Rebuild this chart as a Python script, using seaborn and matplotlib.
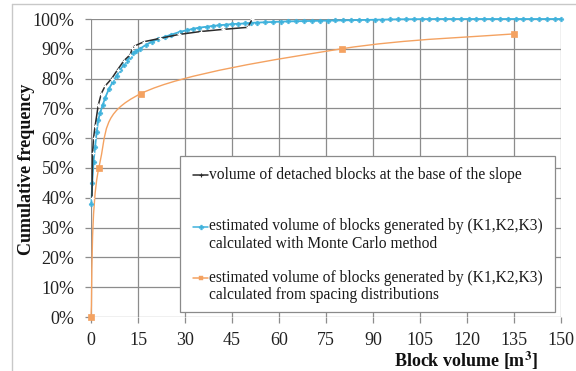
import numpy as np
import pandas as pd
import matplotlib
matplotlib.use("Agg")
import matplotlib.pyplot as plt
import seaborn as sns
from matplotlib.path import Path
from matplotlib.patches import PathPatch, Rectangle
from matplotlib.lines import Line2D

# ---------------- data ----------------
detached_x = [0.3, 0.5, 0.8, 1.3, 2.3, 3.3, 4.5, 6.6, 8.5, 10.5, 12.5, 13.2, 14.0,
              17.0, 22.0, 28.0, 35.0, 42.0, 50.0, 51.5]
detached_y = [40, 55, 60, 64, 71, 75, 77.5, 80, 83, 86, 88.0, 90.2, 91.0,
              92.4, 93.5, 94.8, 95.8, 96.5, 97.2, 100]

mc_x = [0.1, 0.4, 0.8, 1.3, 1.8, 2.3, 2.9, 3.7, 4.5, 5.7, 7.0, 8.2, 9.3, 10.4,
        11.4, 12.4, 13.4, 14.5, 15.6, 17.5, 19.4, 21.5, 23.5, 25.5, 28.4, 30.5,
        32.5, 34.5, 36.9, 39.0, 41.0, 43.0, 45.0, 47.0, 49.0, 51.0, 53.0, 55.5,
        58.0, 60.5, 63.0, 65.5, 68.0, 70.5, 73.0, 75.5, 78.0, 80.5, 83.0, 85.5,
        88.0, 90.5, 93.0, 95.5, 98.0, 100.5, 103.0, 105.5, 108.0, 110.5, 113.0,
        115.5, 118.0, 120.5, 123.0, 125.5, 128.0, 130.5, 133.0, 135.5, 138.0,
        140.5, 143.0, 145.5, 148.0, 150.0]
mc_y = [38, 45, 52, 57, 62, 66, 68.5, 71, 73.5, 76.5, 79, 81, 83, 84.5,
        86, 87.3, 88.5, 89.3, 90, 91.3, 92.4, 93.3, 94, 94.7, 95.7, 96.2,
        96.7, 97.1, 97.4, 97.7, 97.9, 98.1, 98.3, 98.4, 98.5, 98.7, 98.8, 98.9,
        99.0, 99.1, 99.2, 99.25, 99.3, 99.35, 99.4, 99.45, 99.5, 99.55, 99.6, 99.65,
        99.7, 99.75, 99.8, 99.85, 99.9, 99.92, 99.94, 99.96, 99.98, 100, 100,
        100, 100, 100, 100, 100, 100, 100, 100, 100, 100,
        100, 100, 100, 100, 100]

spacing_x = [0, 2.5, 16, 80, 135]
spacing_y = [0, 50, 75, 90, 95]

x_ticks = [0, 15, 30, 45, 60, 75, 90, 105, 120, 135, 150]
y_ticks = [0, 10, 20, 30, 40, 50, 60, 70, 80, 90, 100]
y_ticklabels = [f"{v}%" for v in y_ticks]

labels = ["volume of detached blocks at the base of the slope",
          "estimated volume of blocks generated by (K1,K2,K3)\ncalculated with Monte Carlo method",
          "estimated volume of blocks generated by (K1,K2,K3)\ncalculated from spacing distributions"]

BLACK = "#2b2b2b"
CYAN = "#3fb2dc"
ORANGE = "#f4a261"
GRID = "#8c8c8c"

# ---------------- style ----------------
sns.set_theme(style="white")
plt.rcParams['font.family'] = ['Liberation Serif', 'DejaVu Serif']
plt.rcParams['mathtext.fontset'] = 'stix'

W, H = 576, 371
fig = plt.figure(figsize=(W / 100, H / 100), dpi=100)
L, R, T, B = 91, 561, 19, 317
ax = fig.add_axes([L / W, 1 - B / H, (R - L) / W, (B - T) / H])
ax.set_xlim(0, 150)
ax.set_ylim(0, 100)

# figure frame
fig.add_artist(Line2D([12 / W, 12 / W], [0, 1 - 4 / H], transform=fig.transFigure,
                      color="#c8c8c8", lw=1))
fig.add_artist(Line2D([12 / W, 1], [1 - 4 / H, 1 - 4 / H], transform=fig.transFigure,
                      color="#c8c8c8", lw=1))

# grid
ax.set_xticks(x_ticks)
ax.set_yticks(y_ticks)
ax.set_yticklabels(y_ticklabels)
ax.grid(True, color=GRID, lw=0.9)
for s in ax.spines.values():
    s.set_visible(False)
ax.tick_params(axis="both", which="major", length=4, width=0.9, color=GRID,
               labelsize=13, labelcolor="#222222", direction="out",
               bottom=True, left=True)
ax.tick_params(axis="x", pad=7)
ax.tick_params(axis="y", pad=8)
ax.set_axisbelow(True)

# smooth (Excel-like) path for spacing series
def smooth_path(ax, xs, ys):
    pts = ax.transData.transform(np.column_stack([xs, ys]))
    n = len(pts)
    verts = [pts[0]]
    codes = [Path.MOVETO]
    for i in range(n - 1):
        p0 = pts[i - 1] if i > 0 else pts[i]
        p1 = pts[i]
        p2 = pts[i + 1]
        p3 = pts[i + 2] if i + 2 < n else pts[i + 1]
        c1 = p1 + (p2 - p0) / 6
        c2 = p2 - (p3 - p1) / 6
        verts += [c1, c2, p2]
        codes += [Path.CURVE4] * 3
    verts = ax.transData.inverted().transform(np.array(verts))
    return Path(verts, codes)

ax.add_patch(PathPatch(smooth_path(ax, spacing_x, spacing_y), facecolor="none",
                       edgecolor=ORANGE, lw=1.0, clip_on=False, zorder=3))
sns.scatterplot(x=spacing_x, y=spacing_y, ax=ax, marker="s", s=13, color=ORANGE,
                edgecolor=ORANGE, linewidth=0.5, clip_on=False, zorder=4, legend=False)

sns.lineplot(x=mc_x, y=mc_y, ax=ax, sort=False, estimator=None, color=CYAN, lw=1.3,
             marker="P", markersize=3.4, markeredgewidth=0.3, markeredgecolor=CYAN,
             clip_on=False, zorder=5, legend=False)
sns.lineplot(x=detached_x, y=detached_y, ax=ax, sort=False, estimator=None, color=BLACK,
             lw=1.1, marker="+", markersize=3.5, markeredgewidth=0.9,
             clip_on=False, zorder=6, legend=False)

ax.set_xlabel("")
ax.set_ylabel("")

# labels
fig.text(27 / W, 1 - 169 / H, "Cumulative frequency", rotation=90, ha="center",
         va="center", fontsize=13, fontweight="bold", color="#111111")
fig.text(538 / W, 1 - 361 / H, r"Block volume [m$^\mathbf{3}$]", ha="right", va="center",
         fontsize=13, fontweight="bold", color="#111111")

# legend (manual box)
def fx(px):
    return (px - L) / (R - L)

def fy(py):
    return (B - py) / (B - T)

ax.add_patch(Rectangle((fx(180), fy(312)), fx(555) - fx(180), fy(156) - fy(312),
                       transform=ax.transAxes, facecolor="white", edgecolor="#8a8a8a",
                       lw=0.9, zorder=10, clip_on=False))
entries = [(BLACK, "+", 175, [labels[0]]),
           (CYAN, "P", 226.5, labels[1].split("\n")),
           (ORANGE, "s", 277.5, labels[2].split("\n"))]
for col, mk, y0, lines in entries:
    ax.add_line(Line2D([fx(193), fx(208)], [fy(y0), fy(y0)], transform=ax.transAxes,
                       color=col, lw=1.1, zorder=11, clip_on=False))
    ax.add_line(Line2D([fx(200.5)], [fy(y0)], transform=ax.transAxes, color=col,
                       marker=mk, markersize=3.5, markeredgewidth=0.8 if mk == "+" else 0.3,
                       markeredgecolor=col, zorder=11, clip_on=False))
    for k, t in enumerate(lines):
        ax.text(fx(209), fy(y0 + k * 17.8), t, transform=ax.transAxes, ha="left",
                va="center", fontsize=11.2, color="#1a1a1a", zorder=12)

fig.savefig("out.png", dpi=100)
